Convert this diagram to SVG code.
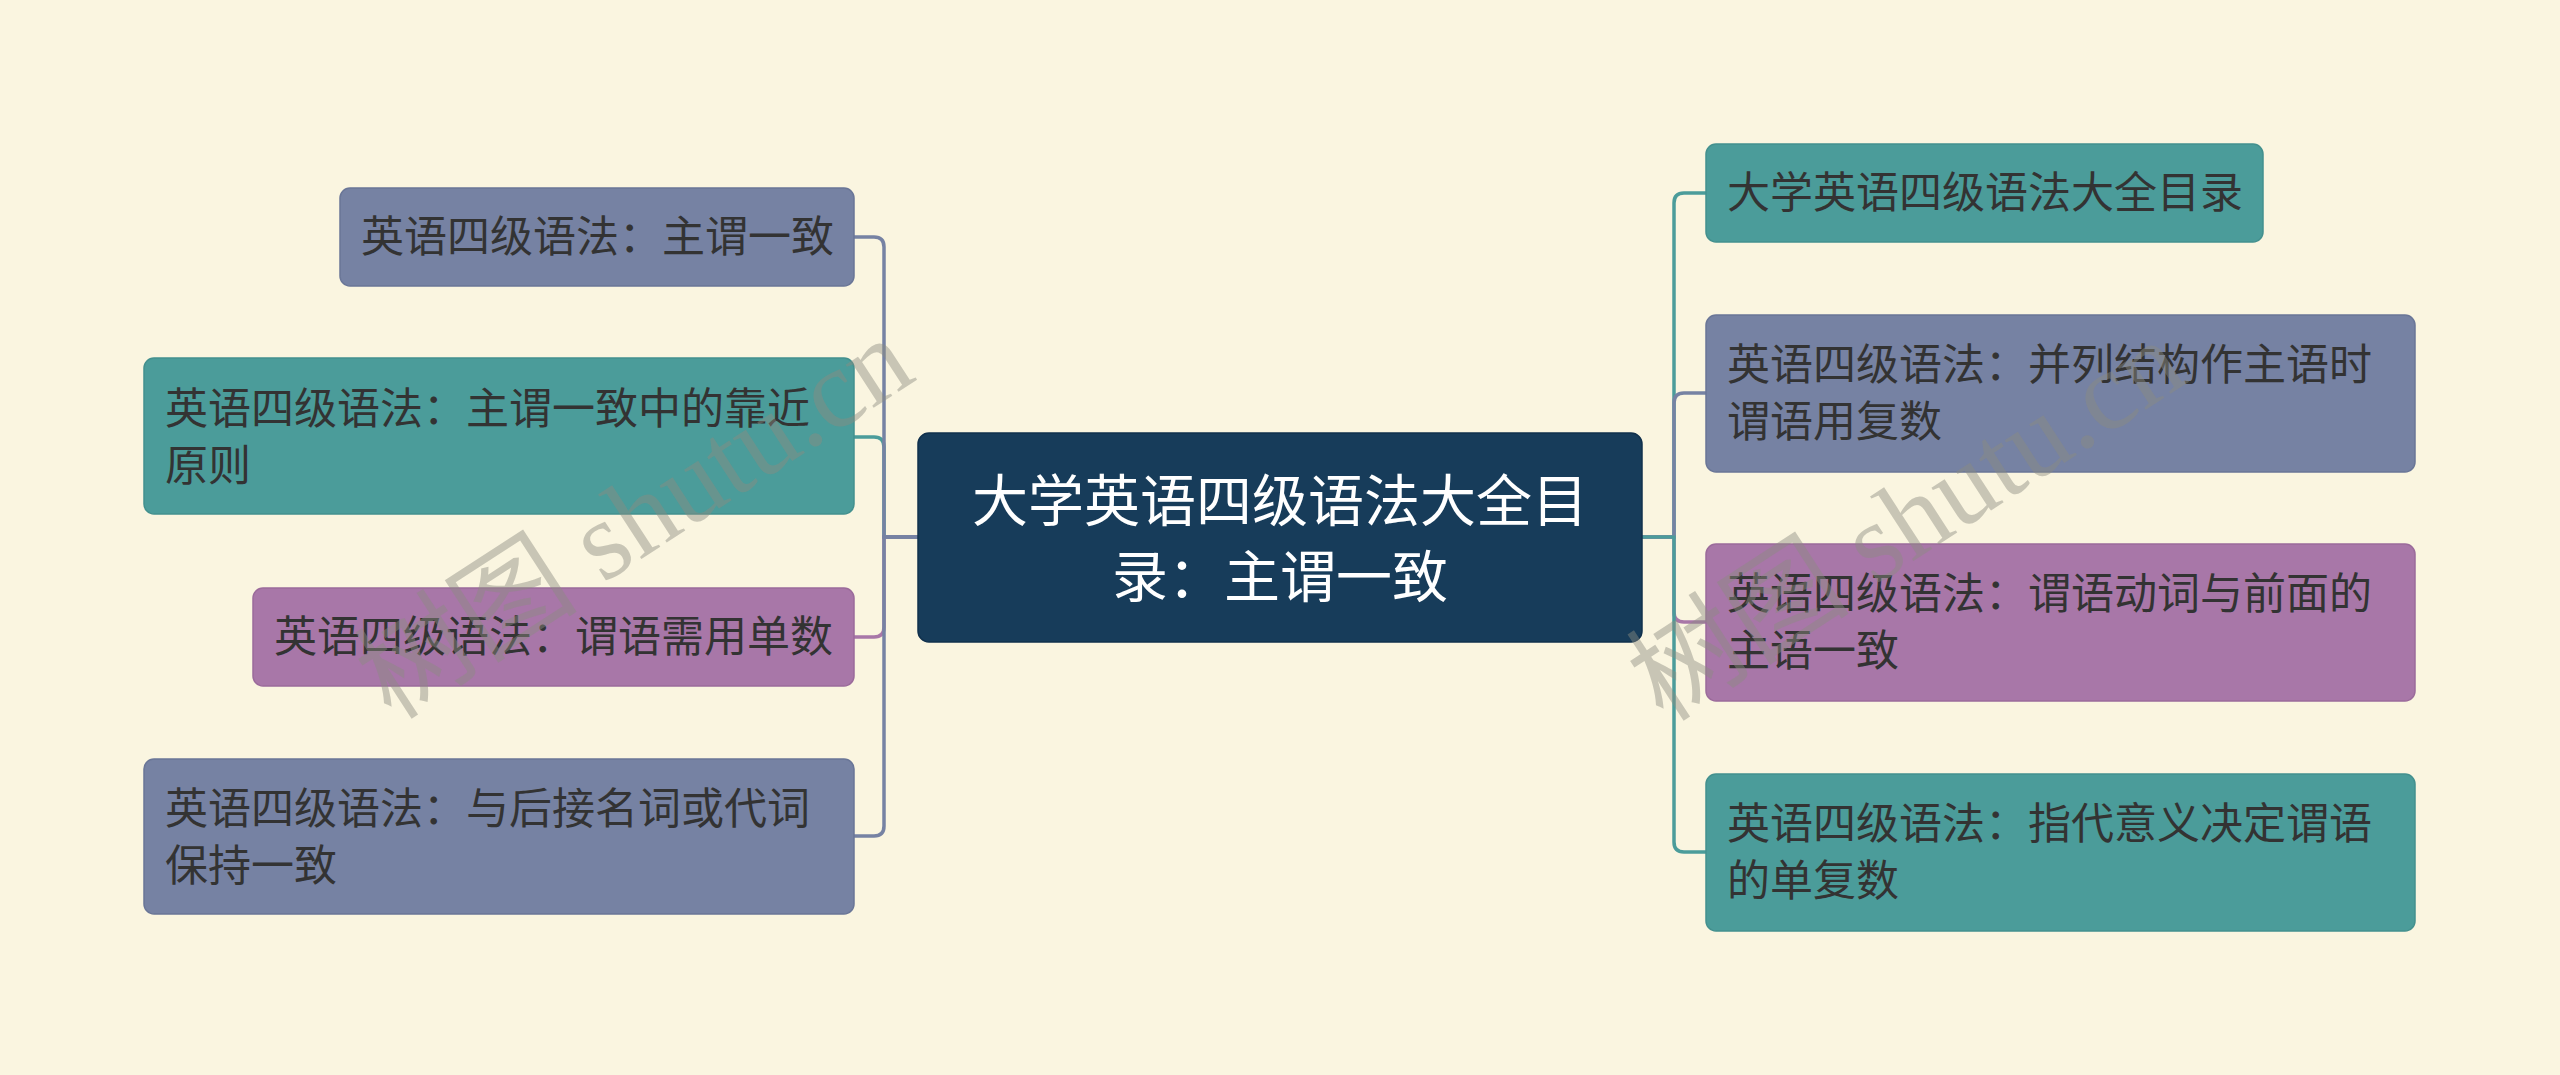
<svg xmlns="http://www.w3.org/2000/svg" width="2560" height="1075" viewBox="0 0 2560 1075">
<style>
.bg{fill:#faf5e0}
.n{stroke-width:1.5}
.blue{fill:#7682a3;stroke:#6a7697}
.teal{fill:#4b9c9a;stroke:#43908e}
.purple{fill:#a877a8;stroke:#9b6b9b}
.center{fill:#173c5a;stroke:#10304c}
.t{font-family:"Noto Sans CJK SC","Noto Sans",sans-serif;font-size:43px;fill:#333333}
.ct{font-family:"Noto Sans CJK SC","Noto Sans",sans-serif;font-size:56px;fill:#ffffff;text-anchor:middle}
.c{fill:none;stroke-width:3.5}
.wm{font-family:"Liberation Serif","Noto Sans CJK SC",serif;font-size:112px;fill:#8c8c80;fill-opacity:0.45}
</style>
<rect class="bg" x="0" y="0" width="2560" height="1075"/>
<g id="connectors">
<path class="c" stroke="#4b9c9a" d="M1642,537 H1674 V203 Q1674,193 1684,193 H1706"/>
<path class="c" stroke="#7682a3" d="M1642,537 H1674 V403 Q1674,393 1684,393 H1706"/>
<path class="c" stroke="#a877a8" d="M1642,537 H1674 V612 Q1674,622 1684,622 H1706"/>
<path class="c" stroke="#4b9c9a" d="M1642,537 H1674 V842 Q1674,852 1684,852 H1706"/>
<path class="c" stroke="#4b9c9a" d="M918,537 H884 V447 Q884,437 874,437 H854"/>
<path class="c" stroke="#a877a8" d="M918,537 H884 V627 Q884,637 874,637 H854"/>
<path class="c" stroke="#7682a3" d="M918,537 H884 V247 Q884,237 874,237 H854"/>
<path class="c" stroke="#7682a3" d="M918,537 H884 V826 Q884,836 874,836 H854"/>
</g>
<g id="center">
<rect class="n center" x="918" y="433" width="724" height="209" rx="11"/>
<text class="ct" x="1280" y="521">大学英语四级语法大全目</text>
<text class="ct" x="1280" y="597">录：主谓一致</text>
</g>
<g id="L1">
<rect class="n blue" x="340" y="188" width="514" height="98" rx="10"/>
<text class="t" x="361" y="252">英语四级语法：主谓一致</text>
</g>
<g id="L2">
<rect class="n teal" x="144" y="358" width="710" height="156" rx="10"/>
<text class="t" x="165" y="424">英语四级语法：主谓一致中的靠近</text>
<text class="t" x="165" y="481">原则</text>
</g>
<g id="L3">
<rect class="n purple" x="253" y="588" width="601" height="98" rx="10"/>
<text class="t" x="274" y="652">英语四级语法：谓语需用单数</text>
</g>
<g id="L4">
<rect class="n blue" x="144" y="759" width="710" height="155" rx="10"/>
<text class="t" x="165" y="824">英语四级语法：与后接名词或代词</text>
<text class="t" x="165" y="881">保持一致</text>
</g>
<g id="R1">
<rect class="n teal" x="1706" y="144" width="557" height="98" rx="10"/>
<text class="t" x="1727" y="208">大学英语四级语法大全目录</text>
</g>
<g id="R2">
<rect class="n blue" x="1706" y="315" width="709" height="157" rx="10"/>
<text class="t" x="1727" y="380">英语四级语法：并列结构作主语时</text>
<text class="t" x="1727" y="437">谓语用复数</text>
</g>
<g id="R3">
<rect class="n purple" x="1706" y="544" width="709" height="157" rx="10"/>
<text class="t" x="1727" y="609">英语四级语法：谓语动词与前面的</text>
<text class="t" x="1727" y="666">主语一致</text>
</g>
<g id="R4">
<rect class="n teal" x="1706" y="774" width="709" height="157" rx="10"/>
<text class="t" x="1727" y="839">英语四级语法：指代意义决定谓语</text>
<text class="t" x="1727" y="896">的单复数</text>
</g>
<g id="watermark">
<text class="wm" text-anchor="middle" transform="translate(655,550) rotate(-33)">树图 shutu.cn</text>
<text class="wm" text-anchor="middle" transform="translate(1927,552) rotate(-33)">树图 shutu.cn</text>
</g>
</svg>
